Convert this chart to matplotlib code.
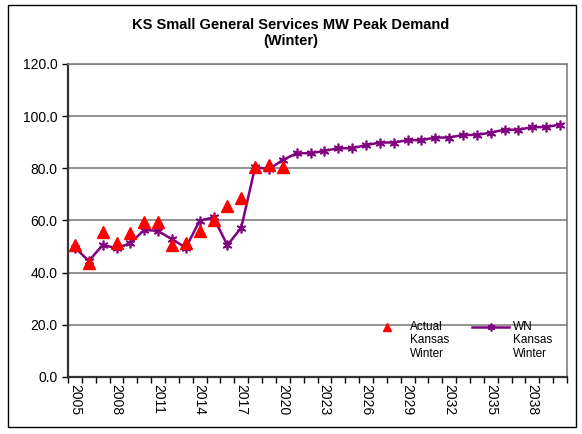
import numpy as np
import matplotlib.pyplot as plt
from matplotlib.patches import Rectangle
from matplotlib.legend_handler import HandlerLine2D

plt.rcParams['font.family'] = ['Liberation Sans', 'DejaVu Sans']

# Données
annees = list(range(2005, 2041))
actual_winter = [50.5, 43.6, 55.4, 51.5, 55.3, 59.6, 59.5, 50.5, 51.5, 55.8,
                 60.1, 65.6, 68.8, 80.6, 81.4, 80.6]
wn_winter = [49.6, 44.5, 50.6, 49.4, 51.3, 56.4, 56.0, 52.8, 49.6, 59.9,
             61.2, 50.5, 57.3, 80.5, 79.7, 83.2, 85.8, 85.8, 86.7, 87.7,
             87.7, 88.9, 89.9, 89.9, 90.8, 90.8, 91.8, 91.8, 92.8, 92.8,
             93.7, 94.8, 94.8, 95.8, 95.8, 96.8]
labels_annees = [str(a) for a in annees]


class HandlerHaut(HandlerLine2D):
    """Place le symbole de la légende au niveau de la première ligne."""
    def create_artists(self, legend, orig_handle, xdescent, ydescent,
                       width, height, fontsize, trans):
        artistes = super().create_artists(legend, orig_handle, xdescent, ydescent,
                                          width, height, fontsize, trans)
        for a in artistes:
            a.set_ydata(np.asarray(a.get_ydata()) + fontsize * 1.15)
        return artistes


fig = plt.figure(figsize=(5.82, 4.34), dpi=100)
ax = fig.add_axes([68 / 582, 1 - 377 / 434, 499 / 582, 313 / 434])

# Cadre extérieur
fig.patches.append(Rectangle((8 / 582, 1 - 427 / 434), 568 / 582, 422 / 434,
                             transform=fig.transFigure, fill=False,
                             edgecolor='black', linewidth=1.0))

x_actual = list(range(len(actual_winter)))
x_wn = list(range(len(wn_winter)))

ligne_actual, = ax.plot(x_actual, actual_winter, linestyle='none', marker='^',
                        color='red', markersize=8, label='Actual\nKansas\nWinter',
                        zorder=4)
ligne_wn, = ax.plot(x_wn, wn_winter, color='#800080', linewidth=1.8,
                    marker=(6, 2, 0), markersize=7, markeredgewidth=1.2,
                    label='WN\nKansas\nWinter', zorder=3)

ax.set_xlim(-0.5, len(annees) - 0.5)
ax.set_ylim(0, 120)
ax.set_yticks(range(0, 121, 20))
ax.set_yticklabels([f'{v:.1f}' for v in range(0, 121, 20)], fontsize=10)

# Graduations entre les catégories, étiquettes tous les 3 ans
ax.set_xticks([i - 0.5 for i in range(len(annees) + 1)])
ax.set_xticklabels([])
ax.set_xticks(range(0, len(annees), 3), minor=True)
ax.set_xticklabels(labels_annees[::3], minor=True, rotation=-90, fontsize=10)
ax.tick_params(axis='x', which='major', direction='out', length=4, width=1)
ax.tick_params(axis='x', which='minor', length=0, pad=5)
ax.tick_params(axis='y', direction='out', length=4.5, width=1, pad=3)

ax.grid(axis='y', color='#808080', linewidth=1.2)
ax.set_axisbelow(True)
for side in ['left', 'bottom']:
    ax.spines[side].set_color('#333333')
    ax.spines[side].set_linewidth(1.6)
for side in ['top', 'right']:
    ax.spines[side].set_color('#808080')
    ax.spines[side].set_linewidth(1.2)

fig.text(0.5, 1 - 33 / 434, 'KS Small General Services MW Peak Demand\n(Winter)',
         ha='center', va='center', fontsize=10.5, fontweight='bold', linespacing=1.15)

ax.legend(handles=[ligne_actual, ligne_wn], loc='upper left',
          bbox_to_anchor=(0.603, 0.18), ncol=2, frameon=False, fontsize=8.5,
          handlelength=3.1, columnspacing=2.0, handletextpad=0.35,
          borderaxespad=0, borderpad=0, markerscale=0.8, labelspacing=0.5,
          handler_map={ligne_actual: HandlerHaut(), ligne_wn: HandlerHaut()})

fig.savefig('out.png', dpi=100)
